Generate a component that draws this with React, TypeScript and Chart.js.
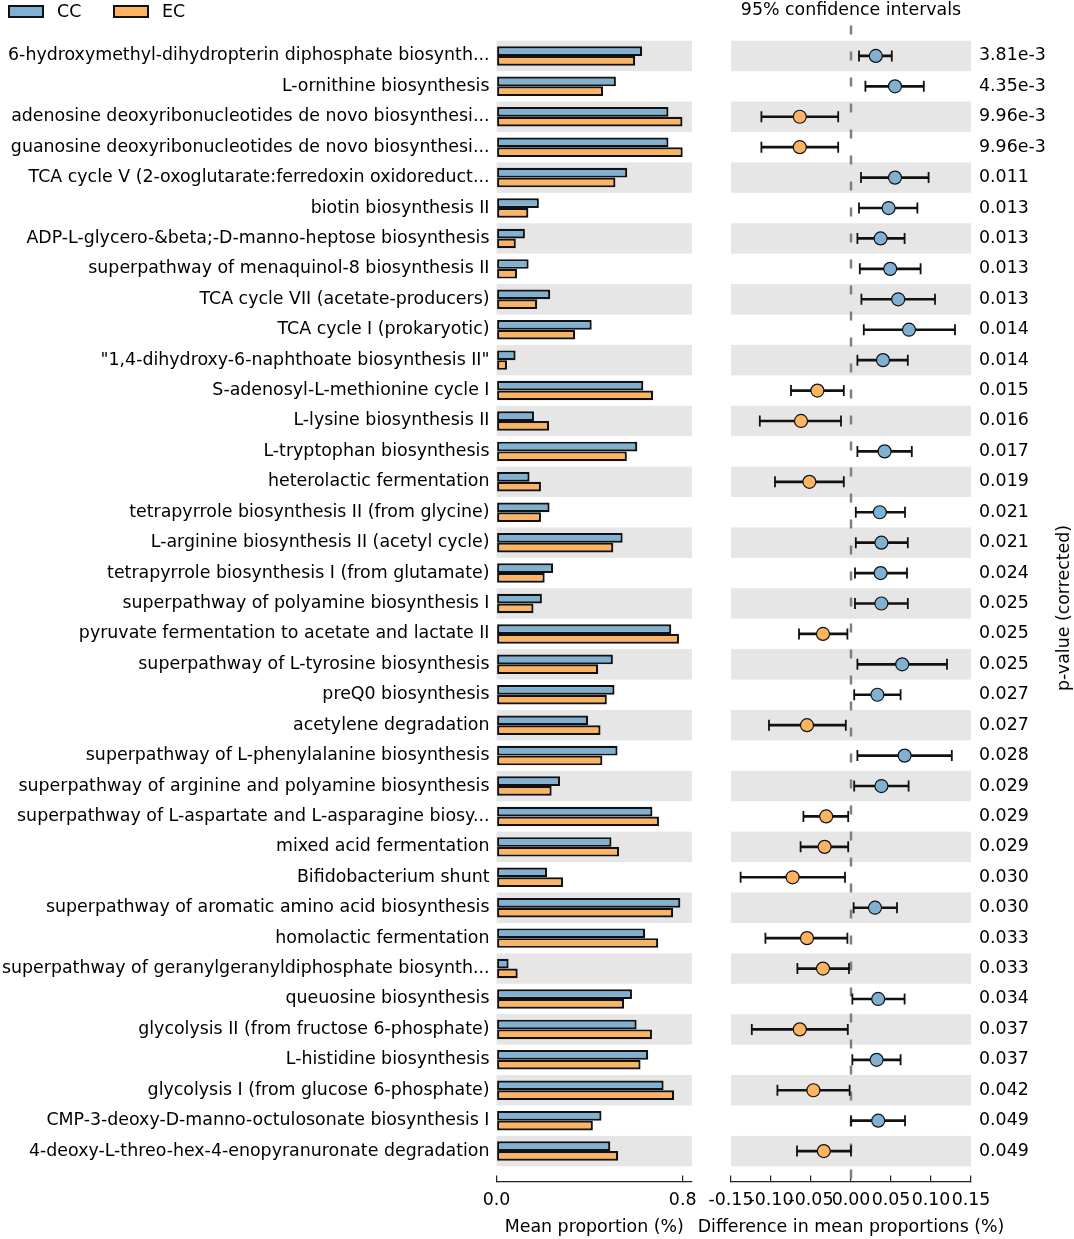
import React, { useEffect, useRef } from "react";
import { Chart, registerables } from "chart.js";

Chart.register(...registerables);

const FONT = "'DejaVu Sans', sans-serif";
const FS = 17.4;

const pathways = [
  "6-hydroxymethyl-dihydropterin diphosphate biosynth...",
  "L-ornithine biosynthesis",
  "adenosine deoxyribonucleotides de novo biosynthesi...",
  "guanosine deoxyribonucleotides de novo biosynthesi...",
  "TCA cycle V (2-oxoglutarate:ferredoxin oxidoreduct...",
  "biotin biosynthesis II",
  "ADP-L-glycero-&beta;-D-manno-heptose biosynthesis",
  "superpathway of menaquinol-8 biosynthesis II",
  "TCA cycle VII (acetate-producers)",
  "TCA cycle I (prokaryotic)",
  "\"1,4-dihydroxy-6-naphthoate biosynthesis II\"",
  "S-adenosyl-L-methionine cycle I",
  "L-lysine biosynthesis II",
  "L-tryptophan biosynthesis",
  "heterolactic fermentation",
  "tetrapyrrole biosynthesis II (from glycine)",
  "L-arginine biosynthesis II (acetyl cycle)",
  "tetrapyrrole biosynthesis I (from glutamate)",
  "superpathway of polyamine biosynthesis I",
  "pyruvate fermentation to acetate and lactate II",
  "superpathway of L-tyrosine biosynthesis",
  "preQ0 biosynthesis",
  "acetylene degradation",
  "superpathway of L-phenylalanine biosynthesis",
  "superpathway of arginine and polyamine biosynthesis",
  "superpathway of L-aspartate and L-asparagine biosy...",
  "mixed acid fermentation",
  "Bifidobacterium shunt",
  "superpathway of aromatic amino acid biosynthesis",
  "homolactic fermentation",
  "superpathway of geranylgeranyldiphosphate biosynth...",
  "queuosine biosynthesis",
  "glycolysis II (from fructose 6-phosphate)",
  "L-histidine biosynthesis",
  "glycolysis I (from glucose 6-phosphate)",
  "CMP-3-deoxy-D-manno-octulosonate biosynthesis I",
  "4-deoxy-L-threo-hex-4-enopyranuronate degradation",
];

const pValues = [
  "3.81e-3", "4.35e-3", "9.96e-3", "9.96e-3", "0.011", "0.013", "0.013", "0.013",
  "0.013", "0.014", "0.014", "0.015", "0.016", "0.017", "0.019", "0.021", "0.021",
  "0.024", "0.025", "0.025", "0.025", "0.027", "0.027", "0.028", "0.029", "0.029",
  "0.029", "0.030", "0.030", "0.033", "0.033", "0.034", "0.037", "0.037", "0.042",
  "0.049", "0.049",
];

const groups = ["CC", "EC"];
const groupColors = ["#80B1D3", "#FDB462"];

const ccMean = [
  0.626, 0.513, 0.739, 0.739, 0.562, 0.182, 0.122, 0.138, 0.231, 0.409, 0.082,
  0.631, 0.161, 0.605, 0.142, 0.228, 0.542, 0.243, 0.195, 0.751, 0.5, 0.507,
  0.394, 0.52, 0.273, 0.67, 0.494, 0.217, 0.79, 0.639, 0.052, 0.582, 0.602,
  0.652, 0.718, 0.451, 0.489,
];
const ecMean = [
  0.596, 0.458, 0.799, 0.8, 0.511, 0.137, 0.083, 0.088, 0.175, 0.338, 0.045,
  0.673, 0.226, 0.56, 0.191, 0.191, 0.502, 0.207, 0.159, 0.784, 0.437, 0.474,
  0.447, 0.455, 0.237, 0.698, 0.527, 0.286, 0.759, 0.695, 0.091, 0.548, 0.668,
  0.619, 0.763, 0.414, 0.523,
];

const diffMean = [
  0.031, 0.055, -0.064, -0.064, 0.055, 0.047, 0.037, 0.049, 0.059, 0.0725, 0.04,
  -0.042, -0.0625, 0.042, -0.052, 0.036, 0.038, 0.037, 0.038, -0.035, 0.064,
  0.033, -0.055, 0.067, 0.038, -0.031, -0.033, -0.073, 0.03, -0.055, -0.035,
  0.034, -0.064, 0.032, -0.047, 0.034, -0.034,
];
const ciLow = [
  0.01, 0.018, -0.112, -0.112, 0.0125, 0.01, 0.008, 0.011, 0.013, 0.016, 0.008,
  -0.075, -0.114, 0.008, -0.095, 0.006, 0.006, 0.005, 0.005, -0.065, 0.008,
  0.004, -0.1025, 0.008, 0.004, -0.0595, -0.063, -0.138, 0.0033, -0.107, -0.067,
  0.0017, -0.124, 0.0017, -0.092, 0.0, -0.0675,
];
const ciHigh = [
  0.051, 0.091, -0.016, -0.016, 0.097, 0.083, 0.067, 0.087, 0.105, 0.13, 0.071,
  -0.009, -0.0125, 0.076, -0.009, 0.0675, 0.071, 0.07, 0.071, -0.0045, 0.12,
  0.062, -0.0065, 0.126, 0.072, -0.0035, -0.0035, -0.0075, 0.0575, -0.0045,
  -0.0025, 0.067, -0.004, 0.062, -0.0017, 0.0675, 0.0,
];

const barTicks = [0, 0.8];
const diffTicks = [-0.15, -0.1, -0.05, 0, 0.05, 0.1, 0.15];

const rowIdx = pathways.map((_, i) => i);

function makeBands(zeroLine: boolean) {
  return {
    id: "bands" + (zeroLine ? "R" : "L"),
    beforeDatasetsDraw(chart: any) {
      const { ctx, chartArea, scales } = chart;
      const y = scales.y;
      ctx.save();
      ctx.fillStyle = "#e6e6e6";
      rowIdx.forEach((i) => {
        if (i % 2 === 1) return;
        const a = y.getPixelForValue(i - 0.5);
        const b = y.getPixelForValue(i + 0.5);
        ctx.fillRect(chartArea.left, Math.min(a, b), chartArea.right - chartArea.left, Math.abs(b - a));
      });
      if (zeroLine) {
        const x0 = scales.x.getPixelForValue(0);
        ctx.strokeStyle = "#7f7f7f";
        ctx.lineWidth = 2.5;
        ctx.setLineDash([9, 17]);
        ctx.beginPath();
        ctx.moveTo(x0, chartArea.top);
        ctx.lineTo(x0, chartArea.bottom);
        ctx.stroke();
      }
      ctx.restore();
    },
  };
}

const tickFont = { family: FONT, size: FS };

function zeroPad(s: any) {
  s.paddingLeft = 0;
  s.paddingRight = 0;
  s.paddingTop = 0;
  s.paddingBottom = 0;
}

function xAxis(min: number, max: number, ticks: number[], digits: number, title: string) {
  return {
    type: "linear" as const,
    position: "bottom" as const,
    min,
    max,
    offset: false,
    afterBuildTicks: (s: any) => {
      s.ticks = ticks.map((v) => ({ value: v }));
    },
    afterFit: (s: any) => {
      s.height = 57.5;
      zeroPad(s);
    },
    border: { display: true, color: "#222", width: 1.2 },
    grid: { display: true, offset: false, drawOnChartArea: false, drawTicks: true, tickLength: -6, color: "#222", lineWidth: 1.2 },
    ticks: {
      autoSkip: false,
      maxRotation: 0,
      minRotation: 0,
      padding: 15,
      color: "#000",
      font: tickFont,
      callback: (v: any) => Number(v).toFixed(digits),
    },
    title: { display: title !== "", text: title, color: "#000", font: tickFont, padding: { top: 0, bottom: 1 } },
  };
}

function yAxis(position: "left" | "right", width: number, padding: number, labels: string[]) {
  return {
    type: "linear" as const,
    position,
    min: -1,
    max: 37,
    reverse: true,
    offset: false,
    afterBuildTicks: (s: any) => {
      s.ticks = rowIdx.map((v) => ({ value: v }));
    },
    afterFit: (s: any) => {
      s.width = width;
      zeroPad(s);
    },
    border: { display: false },
    grid: { display: false, drawTicks: false, offset: false },
    ticks: {
      autoSkip: false,
      padding,
      color: "#000",
      font: tickFont,
      callback: (_v: any, idx: number) => labels[idx],
    },
  };
}

export default function App() {
  const leftRef = useRef<HTMLCanvasElement>(null);
  const rightRef = useRef<HTMLCanvasElement>(null);

  useEffect(() => {
    const left = new Chart(leftRef.current as HTMLCanvasElement, {
      type: "bar",
      data: {
        datasets: groups.map((g, gi) => ({
          label: g,
          data: rowIdx.map((i) => ({ x: (gi === 0 ? ccMean : ecMean)[i], y: i })),
          backgroundColor: groupColors[gi],
          borderColor: "#111",
          borderWidth: 2.2,
          borderSkipped: false,
          categoryPercentage: 0.64,
          barPercentage: 1,
        })),
      },
      options: {
        indexAxis: "y",
        responsive: false,
        animation: false,
        events: [],
        layout: { padding: { top: 25.5, right: 8, left: 0, bottom: 0 } },
        plugins: { legend: { display: false }, tooltip: { enabled: false } },
        scales: {
          x: xAxis(0, 0.84, barTicks, 1, "Mean proportion (%)"),
          y: yAxis("left", 496.5, 7, pathways),
        },
      } as any,
      plugins: [makeBands(false)],
    });

    const right = new Chart(rightRef.current as HTMLCanvasElement, {
      type: "bar",
      data: {
        datasets: [
          {
            type: "scatter",
            label: "mean",
            data: rowIdx.map((i) => ({ x: diffMean[i], y: i })),
            pointRadius: 6.5,
            pointBackgroundColor: diffMean.map((v) => (v > 0 ? groupColors[0] : groupColors[1])),
            pointBorderColor: "#111",
            pointBorderWidth: 1.2,
            order: 0,
          },
          {
            type: "scatter",
            label: "caps",
            data: rowIdx.flatMap((i) => [
              { x: ciLow[i], y: i },
              { x: ciHigh[i], y: i },
            ]),
            pointStyle: "line",
            rotation: 90,
            pointRadius: 5.5,
            pointBorderColor: "#111",
            borderColor: "#111",
            pointBorderWidth: 1.8,
            order: 1,
          },
          {
            type: "bar",
            label: "ci",
            indexAxis: "y",
            data: rowIdx.map((i) => ({ x: [ciLow[i], ciHigh[i]], y: i })),
            backgroundColor: "#111",
            borderWidth: 0,
            barThickness: 2,
            order: 2,
          },
        ],
      } as any,
      options: {
        responsive: false,
        animation: false,
        events: [],
        layout: { padding: { top: 25.5, right: 0, left: 31, bottom: 0 } },
        plugins: { legend: { display: false }, tooltip: { enabled: false } },
        scales: {
          x: xAxis(-0.15, 0.15, diffTicks, 2, ""),
          y: yAxis("right", 103, 8, pValues),
        },
      } as any,
      plugins: [makeBands(true)],
    });

    return () => {
      left.destroy();
      right.destroy();
    };
  }, []);

  const legendX = [8, 113];
  return (
    <div
      style={{
        position: "absolute",
        left: 0,
        top: 0,
        width: 1074,
        height: 1239,
        background: "#fff",
        fontFamily: FONT,
        fontSize: FS,
        color: "#000",
      }}
    >
      <canvas ref={leftRef} width={700} height={1239} style={{ position: "absolute", left: 0, top: 0, width: 700, height: 1239 }} />
      <canvas ref={rightRef} width={374} height={1239} style={{ position: "absolute", left: 700, top: 0, width: 374, height: 1239 }} />
      {groups.map((g, gi) => (
        <div key={g} style={{ position: "absolute", left: legendX[gi], top: 0, height: 23, display: "flex", alignItems: "center" }}>
          <div
            style={{
              width: 36,
              height: 12.5,
              boxSizing: "border-box",
              border: "2px solid #111",
              background: groupColors[gi],
              marginRight: 13,
            }}
          />
          <span style={{ lineHeight: "23px", whiteSpace: "nowrap" }}>{g}</span>
        </div>
      ))}
      <div style={{ position: "absolute", left: 651, top: 0, width: 400, textAlign: "center", lineHeight: "19px", whiteSpace: "nowrap" }}>
        95% confidence intervals
      </div>
      <div style={{ position: "absolute", left: 651, top: 1216, width: 400, textAlign: "center", lineHeight: "20px", whiteSpace: "nowrap" }}>
        Difference in mean proportions (%)
      </div>
      <div
        style={{
          position: "absolute",
          left: 1063,
          top: 608,
          transform: "translate(-50%, -50%) rotate(-90deg)",
          whiteSpace: "nowrap",
          lineHeight: "20px",
        }}
      >
        p-value (corrected)
      </div>
    </div>
  );
}
